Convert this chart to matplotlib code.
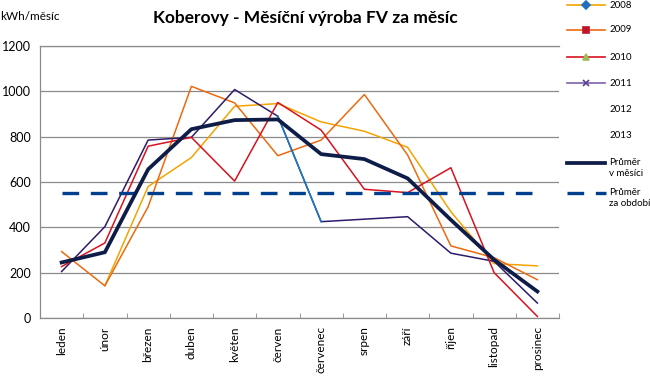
import numpy as np
import matplotlib
matplotlib.use("Agg")
import matplotlib.pyplot as plt
from matplotlib.lines import Line2D

plt.rcParams['font.family'] = ['Lato', 'DejaVu Sans']

mesice = ['leden', 'únor', 'březen', 'duben', 'květen', 'červen',
          'červenec', 'srpen', 'září', 'říjen', 'listopad', 'prosinec']
v2008 = [np.nan, 142, 580, 708, 934, 946, 865, 824, 753, 469, 240, 230]
v2009 = [293, 142, 491, 1022, 949, 716, 785, 986, 719, 318, 266, 169]
v2010 = [227, 331, 758, 797, 604, 951, 829, 568, 553, 663, 200, 7]
v2011 = [205, 403, 785, 797, 1008, 890, 425, 436, 447, 286, 250, 66]
prumer_mesic = [245, 290, 656, 833, 873, 876, 723, 701, 616, 433, 257, 117]
prumer_obdobi = 550

x = np.arange(len(mesice))

fig = plt.figure(figsize=(6.5, 3.77), dpi=100)
ax = fig.add_axes([40/650, 1-318/377, 519/650, 272/377])

ax.plot(x, v2008, color='#F5A300', lw=1.1, zorder=3)
ax.plot(x, v2009, color='#EC6A0E', lw=1.1, zorder=3)
ax.plot(x, v2011, color='#2F1B6B', lw=1.1, zorder=3)
ax.plot(x[5:7], v2011[5:7], color='#1A7AC4', lw=1.1, zorder=3)
ax.plot(x, v2010, color='#D8121F', lw=1.1, zorder=3)
ax.plot(x, [prumer_obdobi]*len(x), color='#003E8E', lw=2.4,
        dashes=(5, 3.5), zorder=4)
ax.plot(x, prumer_mesic, color='#0E1C48', lw=2.7, zorder=5)

ax.set_xlim(-0.5, 11.5)
ax.set_ylim(0, 1200)
ax.set_yticks(range(0, 1201, 200))
ax.yaxis.grid(True, color='#8a8a8a', lw=0.9)
ax.set_axisbelow(True)
ax.tick_params(axis='y', length=0, pad=6.5, labelsize=9)
ax.set_xticks(x)
ax.set_xticklabels(mesice, rotation=90, fontsize=8.5)
ax.tick_params(axis='x', which='major', length=0, pad=6)
ax.set_xticks(np.arange(-0.5, 12, 1), minor=True)
ax.tick_params(axis='x', which='minor', length=3.5, color='#8a8a8a', direction='in')
for s in ['left', 'bottom', 'top']:
    ax.spines[s].set_color('#8a8a8a')
    ax.spines[s].set_linewidth(0.9)
ax.spines['right'].set_visible(False)

fig.text(0.5/650, 1-17/377, 'kWh/měsíc', fontsize=8.5, va='center', ha='left')
fig.text(305/650, 1-18/377, 'Koberovy - Měsíční výroba FV za měsíc',
         fontsize=12.5, fontweight='bold', ha='center', va='center')

# legenda
leg = [('2008', 5, '#F5A300', 'D', '#1F6FC0'),
       ('2009', 30, '#EC6A0E', 's', '#C0142A'),
       ('2010', 57, '#D8121F', '^', '#9BBB59'),
       ('2011', 83, '#7D62AD', 'x', '#5B3F96'),
       ('2012', 110, None, None, None),
       ('2013', 136, None, None, None)]
for lab, yp, c, m, mc in leg:
    fy = 1 - yp/377
    if c:
        fig.add_artist(Line2D([567/650, 605/650], [fy, fy], color=c, lw=1.2,
                              transform=fig.transFigure))
        fig.add_artist(Line2D([586/650], [fy], marker=m, color=mc, mfc=mc,
                              ms=4, mew=1.2, lw=0, transform=fig.transFigure))
    fig.text(610/650, fy, lab, fontsize=7, va='center')
fy = 1 - 163/377
fig.add_artist(Line2D([567/650, 605/650], [fy, fy], color='#0E1C48', lw=2.7,
                      transform=fig.transFigure))
fig.text(609/650, fy + 5/377, 'Průměr\nv měsíci', fontsize=7, va='top', linespacing=1.3)
fy = 1 - 193/377
fig.add_artist(Line2D([567/650, 606/650], [fy, fy], color='#003E8E', lw=2.4,
                      dashes=(5, 3.5), transform=fig.transFigure))
fig.text(609/650, fy + 5/377, 'Průměr\nza období', fontsize=7, va='top', linespacing=1.3)

fig.savefig('out.png', dpi=100)
